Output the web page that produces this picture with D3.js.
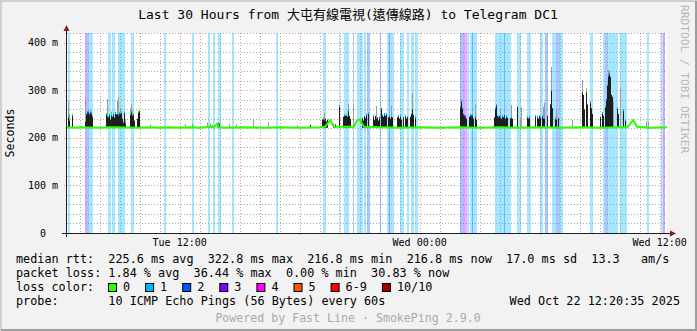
<!DOCTYPE html>
<html>
<head>
<meta charset="utf-8">
<script src="https://cdn.jsdelivr.net/npm/d3@7"></script>
<style>
  body { margin: 0; background: #f2f2f2; }
  svg { display: block; }
  text { font-family: "DejaVu Sans Mono", "Noto Sans CJK TC", monospace; white-space: pre; }
</style>
</head>
<body>
<svg class="smoke-chart"></svg>
<script>
// window of the graph: 30 hours, one RRA row every 3 minutes
const start = new Date(2025, 9, 21, 6, 22);
const end = new Date(2025, 9, 22, 12, 22);

const title = 'Last 30 Hours from 大屯有線電視(遠傳線路) to Telegram DC1';

// loss background: [start minute, end minute, pings lost]
const lossSpans = [
    [3, 9, 1], [54, 60, 3], [60, 66, 2], [66, 78, 1], [123, 132, 1], [135, 144, 1],
    [153, 174, 1], [192, 201, 1], [291, 297, 1], [375, 381, 1], [423, 429, 1],
    [438, 444, 1], [453, 462, 1], [495, 501, 1], [627, 633, 1], [768, 777, 1],
    [816, 819, 1], [831, 846, 1], [858, 861, 2], [870, 888, 1], [891, 897, 1],
    [900, 909, 2], [939, 942, 2], [960, 981, 1], [966, 969, 3], [999, 1011, 1],
    [1020, 1026, 1], [1032, 1041, 1], [1044, 1053, 1], [1179, 1188, 2], [1188, 1194, 3],
    [1194, 1200, 4], [1200, 1206, 1], [1209, 1230, 1], [1215, 1218, 2], [1284, 1302, 1],
    [1302, 1332, 1], [1311, 1314, 2], [1350, 1362, 1], [1380, 1392, 1], [1419, 1428, 1],
    [1434, 1443, 2], [1455, 1467, 1], [1467, 1479, 2], [1479, 1488, 1], [1569, 1578, 1],
    [1608, 1614, 1], [1614, 1623, 2], [1623, 1638, 1], [1638, 1653, 1], [1659, 1680, 1],
    [1740, 1746, 1], [1782, 1788, 1], [1788, 1794, 3]
];

// smoke per row: [minute, dense top ms, outer top ms, median loss colour (-1 none)]
const smoke = [
    [3, 245, 276, 1], [6, 238, 250, 0], [15, 248, 250, 0], [54, 236, 278, 0], [57, 248, 0, 3],
    [60, 253, 0, 2], [63, 255, 0, 1], [66, 250, 0, 1], [69, 255, 258, 1], [72, 252, 0, 1],
    [75, 246, 0, 0],
    [117, 250, 252, 1], [120, 246, 281, 0], [123, 244, 0, 1], [126, 250, 0, 0], [129, 238, 0, -1],
    [132, 248, 255, 1], [135, 244, 0, -1], [138, 250, 0, 1], [141, 242, 0, -1], [144, 252, 255, 1],
    [147, 249, 0, -1], [150, 252, 278, 0], [153, 248, 285, 1], [156, 252, 0, 1], [159, 250, 263, -1],
    [162, 254, 0, 0], [165, 240, 0, -1], [168, 232, 0, -1], [171, 253, 0, 1], [174, 230, 240, -1],
    [189, 250, 262, 0], [192, 254, 271, 1], [195, 246, 258, -1], [198, 250, 0, 0], [201, 236, 0, -1],
    [210, 240, 0, -1], [213, 255, 0, 0], [216, 256, 0, 0],
    [249, 0, 228, -1], [354, 0, 229, -1], [375, 226, 230, 0], [420, 0, 232, -1], [429, 0, 230, -1],
    [435, 226, 0, -1], [450, 0, 232, -1], [453, 229, 233, 1], [456, 230, 0, 0], [486, 0, 229, -1],
    [507, 0, 229, -1], [558, 0, 239, -1], [603, 0, 233, -1], [690, 0, 227, -1], [729, 227, 0, -1],
    [765, 238, 0, -1], [768, 241, 0, 0], [771, 236, 253, -1], [774, 240, 0, -1], [777, 234, 0, -1],
    [780, 238, 0, -1], [798, 229, 0, -1], [804, 228, 0, -1], [816, 267, 0, 1],
    [828, 244, 0, -1], [831, 248, 0, 1], [834, 246, 0, -1], [837, 248, 0, 1], [840, 244, 0, -1],
    [843, 258, 271, 1], [846, 246, 0, -1], [849, 240, 0, -1], [858, 0, 271, -1],
    [885, 241, 0, -1], [888, 236, 0, -1], [891, 245, 0, -1], [894, 241, 0, -1], [897, 249, 0, 1],
    [903, 252, 0, 1], [918, 246, 0, 1], [921, 238, 0, -1], [924, 246, 0, -1], [927, 240, 267, -1],
    [930, 243, 0, -1], [933, 236, 0, -1], [936, 243, 0, 1], [942, 262, 0, 0], [945, 248, 0, 1],
    [948, 244, 0, -1], [951, 250, 0, 1], [954, 246, 0, -1], [957, 250, 0, 1], [963, 243, 0, -1],
    [966, 246, 0, 1], [969, 240, 0, -1], [972, 244, 267, -1], [975, 243, 0, -1], [990, 243, 0, -1],
    [993, 246, 0, 1], [996, 240, 0, -1], [999, 246, 0, 1], [1002, 238, 0, -1], [1008, 243, 0, -1],
    [1014, 246, 0, 1], [1017, 240, 0, -1], [1020, 244, 0, -1], [1029, 244, 0, -1], [1032, 250, 0, -1],
    [1035, 262, 294, 0], [1038, 248, 0, -1], [1044, 243, 0, 1],
    [1179, 266, 0, 1], [1182, 276, 278, 2], [1185, 262, 0, 1], [1188, 248, 0, 3], [1191, 246, 0, 2],
    [1194, 244, 0, 3], [1197, 240, 0, -1], [1206, 244, 0, -1], [1209, 248, 0, 1], [1212, 246, 0, 2],
    [1215, 248, 0, 1], [1218, 240, 0, -1], [1224, 243, 271, -1], [1227, 238, 0, -1],
    [1281, 243, 0, -1], [1284, 262, 0, 1], [1287, 268, 0, 2], [1290, 246, 0, -1], [1293, 244, 0, 1],
    [1296, 246, 0, -1], [1299, 244, 260, 1], [1302, 240, 0, -1], [1305, 246, 0, 1], [1308, 243, 0, -1],
    [1311, 246, 0, 3], [1314, 240, 0, -1], [1317, 245, 0, 1], [1320, 242, 0, -1], [1329, 241, 0, -1],
    [1332, 243, 269, 1], [1335, 240, 0, -1], [1350, 265, 0, -1], [1359, 0, 241, -1], [1362, 0, 265, -1],
    [1380, 244, 0, 1], [1383, 240, 0, -1], [1386, 244, 0, 1], [1404, 246, 0, 1], [1410, 244, 0, 1],
    [1413, 240, 0, -1], [1416, 246, 0, -1], [1419, 243, 0, 1], [1425, 246, 0, 1], [1428, 240, 265, -1],
    [1431, 240, 274, -1], [1440, 246, 0, -1], [1449, 270, 0, -1], [1452, 300, 349, 1], [1455, 262, 0, -1],
    [1464, 241, 0, 1], [1467, 238, 260, -1], [1473, 241, 0, -1], [1515, 0, 237, -1],
    [1545, 297, 321, 0], [1548, 290, 0, -1], [1551, 260, 0, -1], [1557, 297, 304, 0], [1560, 270, 0, -1],
    [1569, 274, 0, 4], [1572, 262, 0, -1], [1575, 250, 0, -1], [1599, 244, 0, -1], [1605, 252, 0, 1],
    [1608, 246, 0, -1], [1614, 265, 0, 1], [1617, 279, 0, 2], [1620, 311, 0, 1], [1623, 331, 342, 1],
    [1626, 336, 340, 1], [1629, 328, 0, -1], [1632, 290, 0, -1], [1635, 286, 0, -1], [1638, 0, 275, -1],
    [1650, 262, 0, 1], [1653, 250, 0, -1], [1659, 0, 307, -1], [1668, 258, 0, 1], [1674, 236, 0, -1],
    [1737, 0, 234, -1], [1743, 0, 234, -1]
];

// median rtt: [minute, ms]
const median = [
    [0, 222], [24, 221], [39, 222], [99, 221], [129, 222], [219, 221], [249, 222], [279, 221],
    [309, 222], [339, 221], [369, 222], [399, 221], [429, 223], [441, 222], [450, 229], [456, 222],
    [474, 221], [519, 222], [594, 221], [639, 222], [699, 221], [759, 222], [774, 223], [783, 231],
    [789, 237], [795, 231], [801, 223], [861, 223], [867, 233], [873, 238], [879, 238], [885, 230],
    [891, 223], [939, 222], [999, 221], [1059, 222], [1119, 221], [1179, 222], [1239, 221],
    [1299, 222], [1359, 221], [1419, 222], [1479, 221], [1539, 222], [1599, 221], [1659, 222],
    [1680, 222], [1686, 226], [1692, 232], [1698, 237], [1704, 231], [1710, 223], [1749, 221],
    [1800, 222]
];

const lossColors = ['#26ff00', '#00b8ff', '#0059ff', '#7e00ff', '#ff00ff', '#ff5500', '#ff0000', '#a10000'];
const lossLabels = ['0', '1', '2', '3', '4', '5', '6-9', '10/10'];
const legendRows = [
    'median rtt:  225.6 ms avg  322.8 ms max  216.8 ms min  216.8 ms now  17.0 ms sd  13.3   am/s',
    'packet loss: 1.84 % avg  36.44 % max  0.00 % min  30.83 % now',
    'loss color:',
    'probe:       10 ICMP Echo Pings (56 Bytes) every 60s'
];
const stamp = 'Wed Oct 22 12:20:35 2025';
const footer = 'Powered by Fast Line · SmokePing 2.9.0';

const svgWidth = 697;
const svgHeight = 331;
const plot = {left: 67, right: 667, top: 33, bottom: 233};
const charW = 7.1;

const svg = d3.select('.smoke-chart')
    .attr('width', svgWidth)
    .attr('height', svgHeight);

// frame shading
svg.append('rect').attr('width', svgWidth).attr('height', svgHeight).attr('fill', '#f2f2f2');
svg.append('path').attr('d', `M1,${svgHeight} V1 H${svgWidth}`)
    .attr('fill', 'none').attr('stroke', '#cfcfcf').attr('stroke-width', 2);
svg.append('path').attr('d', `M1,${svgHeight - 1} H${svgWidth - 1} V1`)
    .attr('fill', 'none').attr('stroke', '#9e9e9e').attr('stroke-width', 2);

const at = (m) => new Date(start.getTime() + m * 60000);
const lossColor = (n) => n <= 5 ? lossColors[n] : (n < 10 ? lossColors[6] : lossColors[7]);

const x = d3.scaleTime().domain([start, end]).range([plot.left, plot.right]);
const y = d3.scaleLinear().domain([0, 0.42]).range([plot.bottom, plot.top]);

const g = svg.append('g');
g.append('rect')
    .attr('x', plot.left).attr('y', plot.top)
    .attr('width', plot.right - plot.left).attr('height', plot.bottom - plot.top)
    .attr('fill', '#fff');

// grid
const minorX = x.ticks(d3.timeHour.every(1));
const majorX = x.ticks(d3.timeHour.every(6));
const majorYv = d3.range(0.1, 0.41, 0.1);
const minorYv = d3.range(0.02, 0.421, 0.02).filter(v => Math.abs(v * 10 - Math.round(v * 10)) > 1e-6);

g.selectAll('.gx').data(minorX.filter(t => t.getHours() % 6 !== 0)).join('line')
    .attr('x1', d => Math.round(x(d)) + 0.5).attr('x2', d => Math.round(x(d)) + 0.5)
    .attr('y1', plot.top).attr('y2', plot.bottom)
    .attr('stroke', 'rgba(143,143,143,0.75)').attr('stroke-dasharray', '1,2');
g.selectAll('.gy').data(minorYv).join('line')
    .attr('y1', d => Math.round(y(d)) + 0.5).attr('y2', d => Math.round(y(d)) + 0.5)
    .attr('x1', plot.left).attr('x2', plot.right)
    .attr('stroke', 'rgba(143,143,143,0.75)').attr('stroke-dasharray', '1,2');
g.selectAll('.mx').data(majorX).join('line')
    .attr('x1', d => Math.round(x(d)) + 0.5).attr('x2', d => Math.round(x(d)) + 0.5)
    .attr('y1', plot.top).attr('y2', plot.bottom + 3)
    .attr('stroke', 'rgba(222,79,79,0.6)').attr('stroke-dasharray', '1,2');
g.selectAll('.my').data(majorYv).join('line')
    .attr('y1', d => Math.round(y(d)) + 0.5).attr('y2', d => Math.round(y(d)) + 0.5)
    .attr('x1', plot.left - 3).attr('x2', plot.right)
    .attr('stroke', 'rgba(222,79,79,0.6)').attr('stroke-dasharray', '1,2');

// loss background
g.selectAll('.loss').data(lossSpans).join('rect')
    .attr('x', d => x(at(d[0])))
    .attr('width', d => x(at(d[1])) - x(at(d[0])))
    .attr('y', plot.top).attr('height', plot.bottom - plot.top)
    .attr('fill', d => lossColor(d[2])).attr('fill-opacity', 0.35);

// smoke
const base = y(0.221);
g.selectAll('.outer').data(smoke.filter(d => d[2] > 0)).join('rect')
    .attr('x', d => x(at(d[0]))).attr('width', 1)
    .attr('y', d => y(d[2] / 1000)).attr('height', d => base - y(d[2] / 1000))
    .attr('fill', '#9c9c9c');
g.selectAll('.dense').data(smoke.filter(d => d[1] > 0)).join('rect')
    .attr('x', d => x(at(d[0]))).attr('width', 1)
    .attr('y', d => y(d[1] / 1000)).attr('height', d => base - y(d[1] / 1000))
    .attr('fill', '#1e1e1e');

const line = d3.line()
    .x(d => x(at(d[0])))
    .y(d => y(d[1] / 1000));
g.append('path')
    .datum(median)
    .attr('fill', 'none')
    .attr('stroke', lossColors[0])
    .attr('stroke-width', 2)
    .attr('d', line);

g.selectAll('.cap').data(smoke.filter(d => d[3] >= 0 && d[1] > 0)).join('rect')
    .attr('x', d => x(at(d[0]))).attr('width', 1)
    .attr('y', d => y(d[1] / 1000) - 1).attr('height', 2)
    .attr('fill', d => lossColor(d[3]));

// axes
const axisCol = '#1f1f1f';
const arrowCol = '#801f1f';
svg.append('line').attr('x1', 66.5).attr('x2', 66.5).attr('y1', 237).attr('y2', 29)
    .attr('stroke', axisCol);
svg.append('path').attr('d', 'M63.5,31 L66.5,25 L69.5,31 Z').attr('fill', arrowCol);
svg.append('line').attr('x1', 62).attr('x2', 671).attr('y1', 233.5).attr('y2', 233.5)
    .attr('stroke', axisCol);
svg.append('path').attr('d', 'M670,230.5 L676,233.5 L670,236.5 Z').attr('fill', arrowCol);

svg.selectAll('.ylab').data(d3.range(0, 0.41, 0.1)).join('text')
    .attr('x', 58).attr('y', d => y(d) + 3.5)
    .attr('text-anchor', 'end').attr('font-size', 10)
    .text(d => d === 0 ? '0  ' : `${Math.round(d * 1000)} m`);

svg.selectAll('.xlab').data(x.ticks(d3.timeHour.every(12))).join('text')
    .attr('x', d => x(d)).attr('y', 246)
    .attr('text-anchor', 'middle').attr('font-size', 10)
    .text(d => d3.timeFormat('%a %H:%M')(d));

svg.append('text')
    .attr('transform', 'translate(14, 133) rotate(-90)')
    .attr('text-anchor', 'middle').attr('font-size', 11.6)
    .text('Seconds');

svg.append('text')
    .attr('x', 348).attr('y', 19)
    .attr('text-anchor', 'middle').attr('font-size', 13)
    .text(title);

svg.append('text')
    .attr('transform', 'translate(681, 5) rotate(90)')
    .attr('font-size', 11.2).attr('fill', '#b8b8b8')
    .text('RRDTOOL / TOBI OETIKER');

// legend
svg.selectAll('.leg').data(legendRows).join('text')
    .attr('x', 16).attr('y', (d, i) => 263 + i * 14)
    .attr('font-size', 11.8)
    .text(d => d);

let bx = 108;
lossLabels.forEach((lab, i) => {
    svg.append('rect')
        .attr('x', bx + 0.5).attr('y', 283.5).attr('width', 8).attr('height', 8)
        .attr('fill', lossColors[i]).attr('stroke', '#000');
    svg.append('text')
        .attr('x', bx + 15).attr('y', 291).attr('font-size', 11.8)
        .text(lab);
    bx += 15 + lab.length * charW + 15;
});

svg.append('text')
    .attr('x', 680).attr('y', 305)
    .attr('text-anchor', 'end').attr('font-size', 11.8)
    .text(stamp);

svg.append('text')
    .attr('x', 348).attr('y', 322)
    .attr('text-anchor', 'middle').attr('font-size', 11.6).attr('fill', '#aaaaaa')
    .text(footer);
</script>
</body>
</html>
